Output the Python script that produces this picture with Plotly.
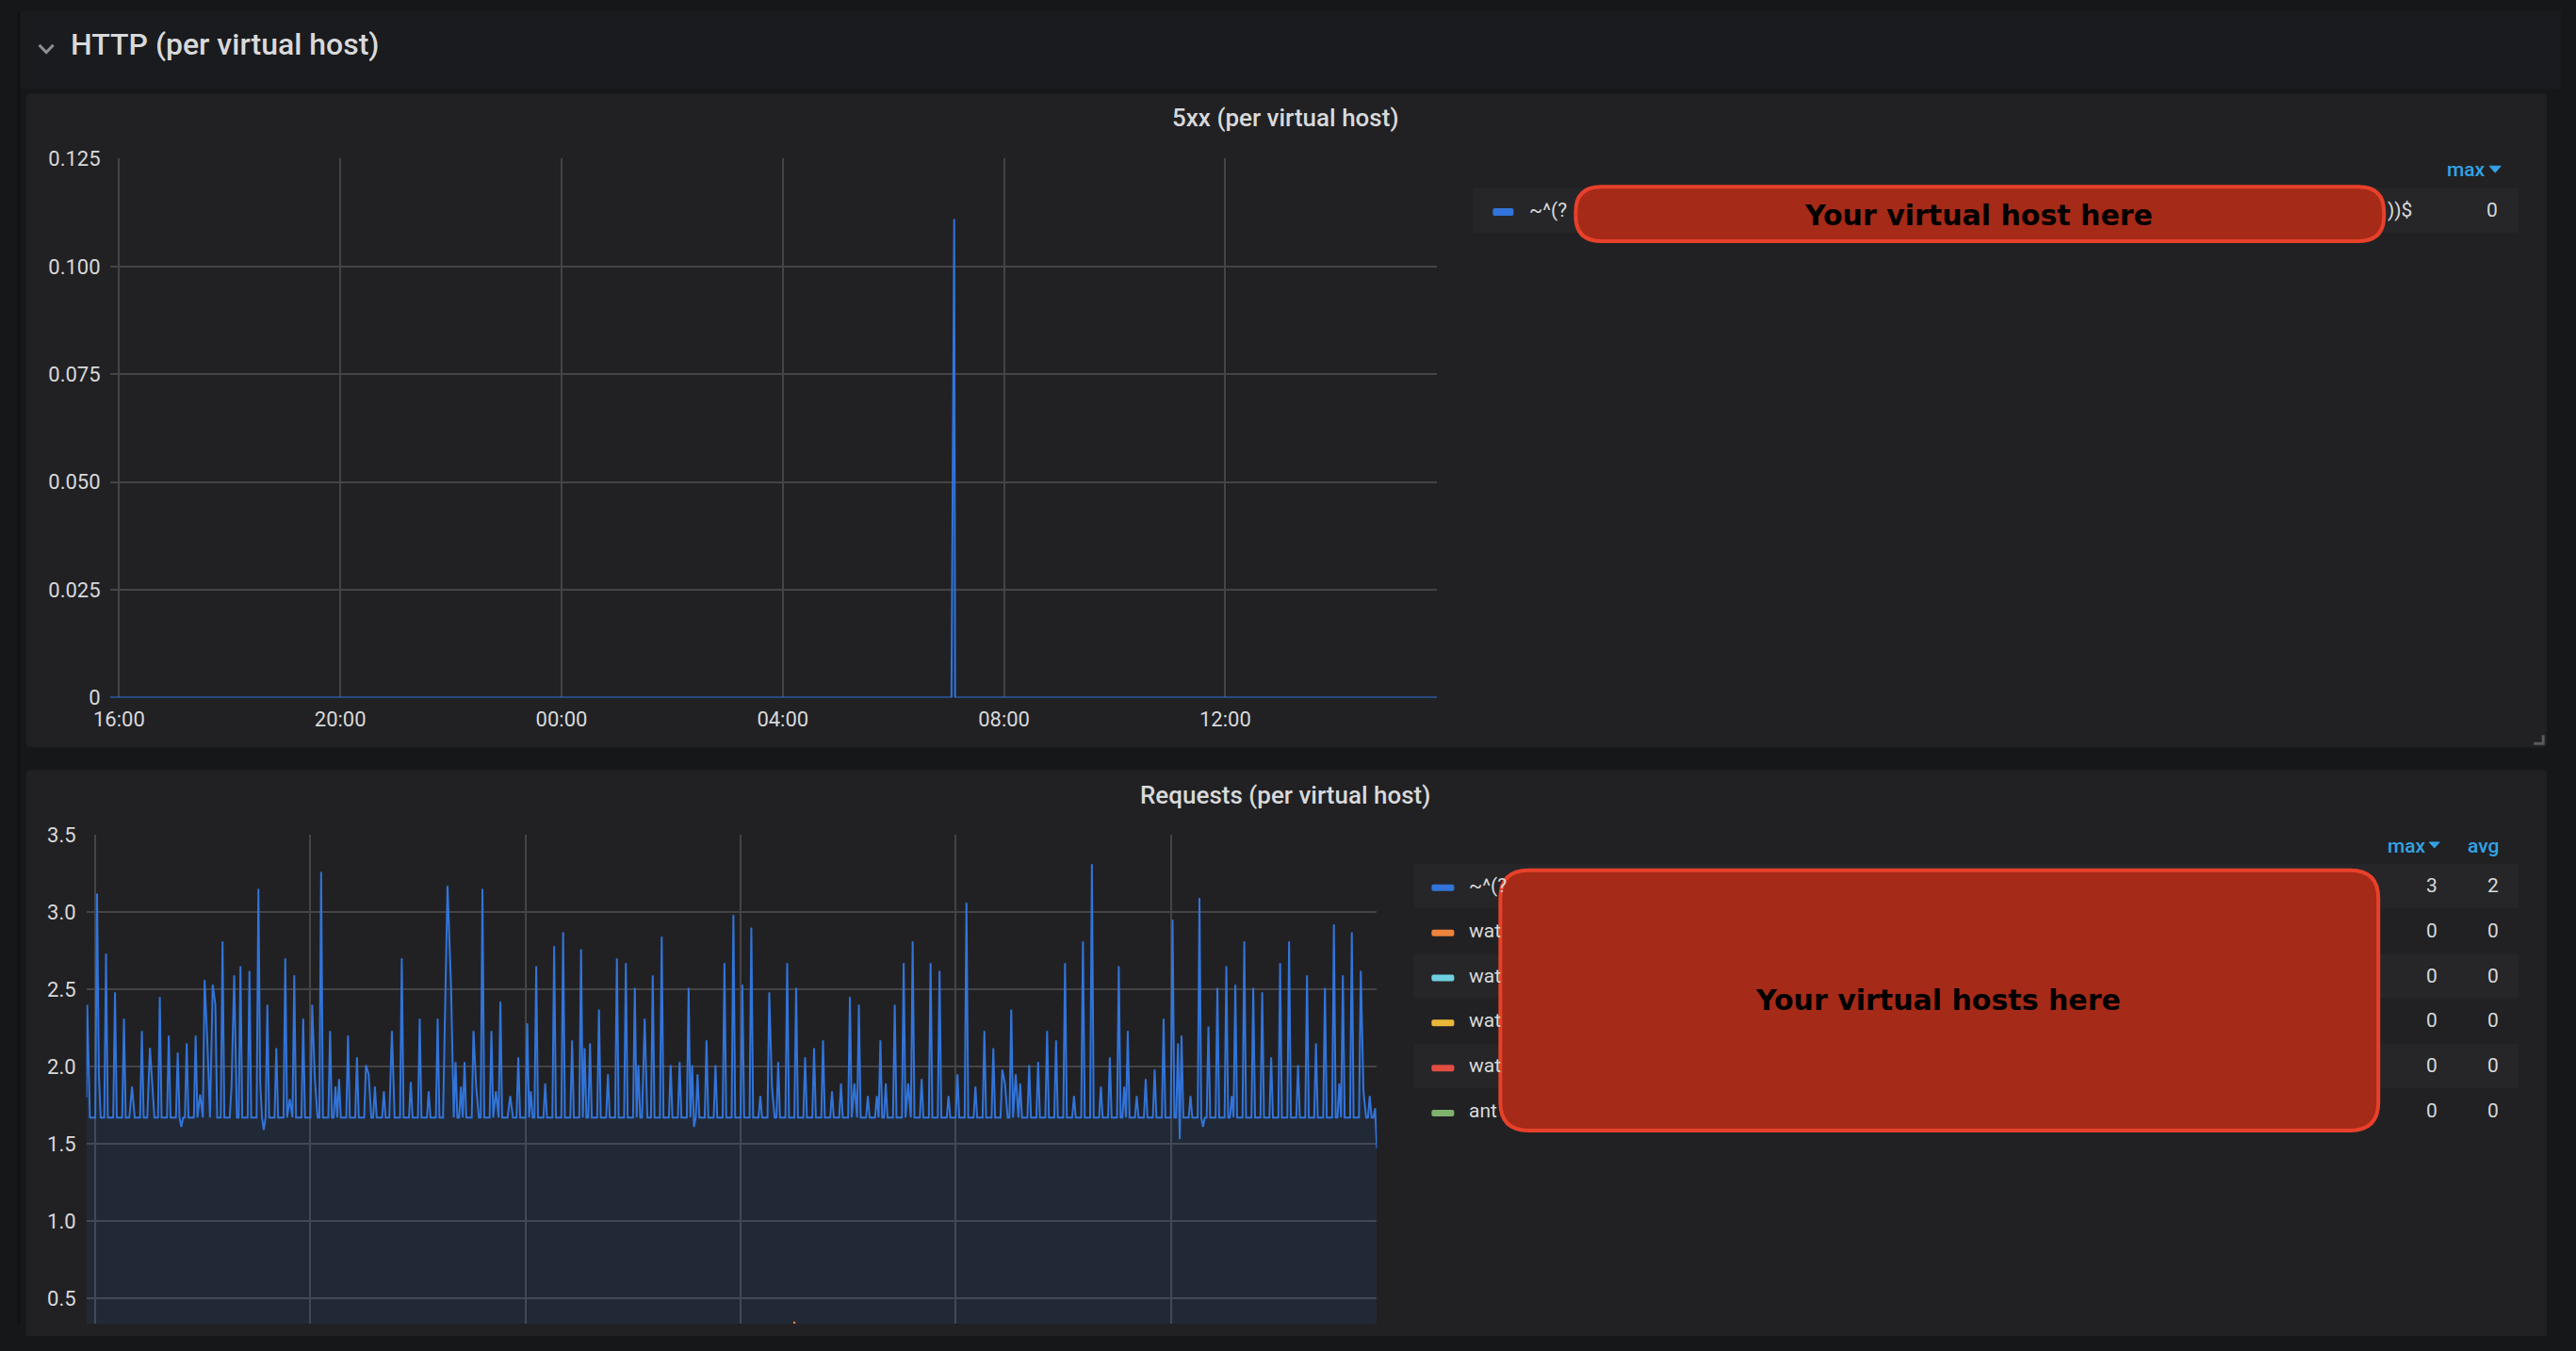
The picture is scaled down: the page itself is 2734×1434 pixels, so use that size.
import pandas as pd
import plotly.graph_objects as go

# figure size, and the mapping from reference page pixels to figure pixels
# (the viewer frames the figure with a small border, so positions are nudged to line up)
W, H = 2718, 1418
SX, OX = 1.0065, 18.5
SY, OY = 1.0147, 12.4

# time axis: minutes after 16:00 on day one, 24 h window
day_start = pd.Timestamp("2021-03-01 16:00")
range_min = [-10, 1430]

# 5xx (per virtual host)
err_minutes = [-10, 903, 906, 907, 1430]
err_values = [0, 0, 0.111, 0, 0]
err_ticks = [0, 0.025, 0.05, 0.075, 0.1, 0.125]
err_ticktext = ["0", "0.025", "0.050", "0.075", "0.100", "0.125"]

# Requests (per virtual host): resting level plus the spikes / dips
req_base = 1.67
req_event_minutes = [
    -10, -9, 2, 4, 12, 22, 32, 41, 52, 61, 64, 72, 82, 92, 96, 102, 112, 117, 122, 125,
    131, 134, 142, 152, 155, 162, 172, 182, 184, 188, 192, 202, 212, 217, 222, 232, 242,
    245, 252, 262, 268, 272, 282, 292, 302, 305, 312, 322, 331, 342, 352,
    362, 372, 382, 390, 393, 397, 402, 408, 412, 422, 425, 432, 442, 447, 452, 463, 472,
    482, 486, 492, 502, 512, 522, 532, 542, 546, 552, 562, 572, 582, 592, 602, 606, 613,
    622, 632, 642, 652, 662, 666, 668, 672, 682, 692, 702, 712,
    722, 732, 742, 752, 755, 762, 772, 782, 792, 802, 812, 822, 832, 842, 847, 852, 862,
    872, 876, 882, 892, 902, 907, 912, 922, 932, 942, 952, 962, 972, 982, 992, 1002, 1012,
    1015, 1022, 1027, 1032, 1042, 1052, 1062, 1072,
    1082, 1092, 1102, 1112, 1122, 1132, 1142, 1148, 1152, 1162, 1172, 1182, 1192, 1202,
    1208, 1210, 1212, 1222, 1232, 1236, 1242, 1252, 1262, 1268, 1272, 1282, 1292, 1302,
    1312, 1322, 1332, 1342, 1352, 1362, 1372, 1382, 1388, 1392, 1402, 1412, 1415, 1422,
    1428, 1430,
]
req_event_values = [
    1.80, 2.40, 3.12, 1.95, 2.73, 2.48, 2.31, 1.87, 2.23, 2.12, 1.88, 2.45, 2.20, 2.09, 1.61, 2.15, 2.20, 1.82, 2.56, 2.17,
    2.53, 2.40, 2.81, 1.87, 2.59, 2.65, 2.62, 3.15, 1.90, 1.59, 2.40, 2.12, 2.70, 1.79, 2.59, 2.31, 2.40,
    1.92, 3.26, 2.23, 1.87, 1.92, 2.20, 2.06, 2.01, 1.95, 1.87, 1.84, 2.23, 2.70, 1.90,
    2.31, 1.84, 2.31, 2.28, 3.17, 2.51, 2.03, 1.87, 2.03, 2.23, 1.87, 3.15, 2.23, 1.84, 2.42, 1.81, 2.06,
    2.28, 1.84, 2.65, 1.89, 2.78, 2.87, 2.17, 2.76, 2.12, 2.15, 2.37, 1.95, 2.70, 2.67, 2.51, 2.01, 2.31,
    2.59, 2.84, 2.01, 2.03, 2.51, 2.01, 1.61, 1.95, 2.17, 2.01, 2.67, 2.98,
    2.53, 2.90, 1.81, 2.48, 1.87, 2.03, 2.67, 2.51, 2.06, 2.12, 2.17, 1.84, 1.89, 2.45, 1.89, 2.40, 1.81,
    1.81, 2.17, 1.89, 2.40, 2.67, 1.89, 2.81, 1.92, 2.67, 2.62, 1.81, 1.95, 3.06, 1.87, 2.23, 2.12, 1.98,
    1.89, 2.37, 1.95, 1.89, 2.01, 2.03, 2.23, 2.17,
    2.67, 1.81, 2.81, 3.31, 1.87, 2.06, 2.65, 1.87, 2.23, 1.81, 1.92, 1.98, 2.31, 2.95,
    2.15, 1.53, 2.20, 1.81, 3.09, 1.61, 2.26, 2.51, 2.65, 1.81, 2.53, 2.81, 2.51, 2.48,
    2.06, 2.67, 2.81, 2.01, 2.59, 2.15, 2.51, 2.92, 1.89, 2.59, 2.87, 2.62, 1.84, 1.81,
    1.73, 1.47,
]
# second host, one small spike around 05:00
orange_minutes = [-10, 778, 780, 782, 1430]
orange_values = [0, 0, 0.35, 0, 0]
req_ticks = [0.5, 1.0, 1.5, 2.0, 2.5, 3.0, 3.5]

# legends
err_legend_label = "~^(?"
err_legend_tail = "))$"
err_legend_max = "0"
req_legend_labels = ["~^(?", "wat", "wat", "wat", "wat", "ant"]
req_legend_colors = ["#3274D9", "#EF843C", "#6ED0E0", "#EAB839", "#E24D42", "#7EB26D"]
req_legend_max = ["3", "0", "0", "0", "0", "0"]
req_legend_avg = ["2", "0", "0", "0", "0", "0"]

TEXT = "#d8d9da"
BLUE_HEAD = "#33a2e5"
GRID = "#444447"
PANEL = "#212124"


def px(x):
    return (x * SX - OX) / W


def py(y):
    return 1 - (y * SY - OY) / H


def to_time(mins):
    return day_start + pd.to_timedelta(mins, unit="min")


def rrect(x0, y0, x1, y1, r, fill, line=None, lw=0, layer="below"):
    pts = [
        ("M", x0 + r, y0), ("L", x1 - r, y0), ("Q", x1, y0, x1, y0 + r),
        ("L", x1, y1 - r), ("Q", x1, y1, x1 - r, y1), ("L", x0 + r, y1),
        ("Q", x0, y1, x0, y1 - r), ("L", x0, y0 + r), ("Q", x0, y0, x0 + r, y0),
    ]
    parts = []
    for p in pts:
        cmd, coords = p[0], p[1:]
        xy = []
        for i in range(0, len(coords), 2):
            xy.append(f"{px(coords[i]):.6f},{py(coords[i + 1]):.6f}")
        parts.append(cmd + " " + " ".join(xy))
    return dict(type="path", xref="paper", yref="paper", path=" ".join(parts) + " Z",
                fillcolor=fill, line=dict(color=line or fill, width=lw), layer=layer)


def poly(points, color, width, fill=None, layer="above"):
    path = "M " + " L ".join(f"{px(x):.6f},{py(y):.6f}" for x, y in points)
    if fill:
        path += " Z"
    shp = dict(type="path", xref="paper", yref="paper", path=path,
               line=dict(color=color, width=width), layer=layer)
    if fill:
        shp["fillcolor"] = fill
    return shp


def label(x, y, text, size=21, color=TEXT, anchor="left", weight=None, family="Roboto"):
    f = dict(family=family, size=size, color=color)
    if weight:
        f["weight"] = weight
    return dict(x=px(x), y=py(y), xref="paper", yref="paper", text=text, showarrow=False,
                xanchor=anchor, yanchor="middle", font=f)


# request series: 2-minute resting samples, with the read-off events dropped in
req_points = dict(zip(req_event_minutes, req_event_values))
for m in range(range_min[0], range_min[1] + 1, 2):
    if all(abs(m - e) >= 2 for e in req_event_minutes):
        req_points[m] = req_base
req_minutes = sorted(req_points)
req_values = [req_points[m] for m in req_minutes]

# lower chart is cut by the bottom of the window: 3.5 sits at page y 889, 0.5 at 1382.7
req_px_per_unit = (1382.7 - 889) / 3.0
req_bottom = 3.5 - ((H + OY) / SY - 889) / req_px_per_unit

fig = go.Figure()
fig.add_trace(go.Scatter(
    x=to_time(err_minutes), y=err_values, mode="lines", xaxis="x", yaxis="y",
    line=dict(color="#3274D9", width=2), fill="tozeroy", fillcolor="rgba(50,116,217,0.10)",
    hoverinfo="skip"))
fig.add_trace(go.Scatter(
    x=to_time(req_minutes), y=req_values, mode="lines", xaxis="x2", yaxis="y2",
    line=dict(color="#3274D9", width=2), fill="tozeroy", fillcolor="rgba(50,116,217,0.10)",
    hoverinfo="skip"))
fig.add_trace(go.Scatter(
    x=to_time(orange_minutes), y=orange_values, mode="lines", xaxis="x2", yaxis="y2",
    line=dict(color="#EF843C", width=2), hoverinfo="skip"))

xr = [to_time(range_min[0]), to_time(range_min[1])]
axis_common = dict(gridcolor=GRID, gridwidth=1.5, zeroline=False, showline=False, ticks="",
                   tickfont=dict(family="Roboto", size=22, color=TEXT))

fig.update_layout(
    width=W, height=H, autosize=False, margin=dict(l=0, r=0, t=0, b=0),
    paper_bgcolor="#161719", plot_bgcolor="rgba(0,0,0,0)", showlegend=False,
    xaxis=dict(domain=[px(117), px(1526)], range=xr, type="date", tickformat="%H:%M",
               tick0=day_start, dtick=4 * 3600 * 1000, anchor="y", ticklabelstandoff=8,
               **axis_common),
    yaxis=dict(domain=[py(743), py(169)], range=[0, 0.12505], tickvals=err_ticks,
               ticktext=err_ticktext, anchor="x", ticklabelstandoff=9, **axis_common),
    xaxis2=dict(domain=[px(92), px(1462)], range=xr, type="date", tick0=day_start,
                dtick=4 * 3600 * 1000, anchor="y2", showticklabels=False, **axis_common),
    yaxis2=dict(domain=[0, py(889)], range=[req_bottom, 3.5005], tickvals=req_ticks,
                tickformat=".1f", anchor="x2", ticklabelstandoff=10, **axis_common),
)

shapes = [
    # page parts
    dict(type="rect", xref="paper", yref="paper", x0=0, x1=1, y0=py(95), y1=1,
         fillcolor="#1a1b1e", line=dict(width=0), layer="below"),
    dict(type="rect", xref="paper", yref="paper", x0=0, x1=px(22), y0=0, y1=1,
         fillcolor="#111214", line=dict(width=0), layer="below"),
    rrect(28, 100, 2704, 796, 5, PANEL),
    rrect(28, 820, 2704, 1460, 5, PANEL),
    # header chevron and resize handle
    poly([(42, 48), (49.5, 56), (57, 48)], "#8e8f92", 3),
    poly([(2700, 783), (2700, 792), (2690, 792)], "#5a5a5c", 3),
    # top legend row
    rrect(1564, 200, 2674, 248, 2, "#262629"),
    rrect(1585, 222, 1607, 230, 2, "#3274D9", layer="above"),
    poly([(2643, 177), (2655, 177), (2649, 184)], BLUE_HEAD, 1, fill=BLUE_HEAD),
    poly([(2579, 897), (2590, 897), (2584.5, 903)], BLUE_HEAD, 1, fill=BLUE_HEAD),
]

annotations = [
    label(73, 47, "HTTP (per virtual host)", size=32, weight=500),
    label(1365, 126, "5xx (per virtual host)", size=26, anchor="center", weight=500),
    label(1365, 847, "Requests (per virtual host)", size=26, anchor="center", weight=500),
    label(1622, 224, err_legend_label),
    label(2533, 224, err_legend_tail),
    label(2654, 224, err_legend_max, anchor="right"),
    label(2641, 181, "max", color=BLUE_HEAD, anchor="right", weight=500),
    label(2578, 901, "max", color=BLUE_HEAD, anchor="right", weight=500),
    label(2655, 901, "avg", color=BLUE_HEAD, anchor="right", weight=500),
]

for i, (name, col, mx, av) in enumerate(zip(req_legend_labels, req_legend_colors,
                                             req_legend_max, req_legend_avg)):
    c = 943 + 48 * i
    if i % 2 == 0:
        shapes.append(rrect(1501, c - 23, 2674, c + 24, 2, "#262629"))
    shapes.append(rrect(1520, c - 1, 1544, c + 6, 2, col, layer="above"))
    annotations.append(label(1558, c, name))
    annotations.append(label(2590, c, mx, anchor="right"))
    annotations.append(label(2655, c, av, anchor="right"))

# placeholder boxes hiding the host names
shapes.append(rrect(1673, 199, 2531, 257, 27, "#a52a18", "#e8402a", 4, layer="above"))
shapes.append(rrect(1593, 927, 2525, 1204, 30, "#a52a18", "#e8402a", 4, layer="above"))
annotations.append(label(2101, 229, "Your virtual host here", size=30, color="#000000",
                         anchor="center", family="DejaVu Sans", weight="bold"))
annotations.append(label(2058, 1065, "Your virtual hosts here", size=30, color="#000000",
                         anchor="center", family="DejaVu Sans", weight="bold"))

fig.update_layout(shapes=shapes, annotations=annotations)

fig.write_html(
    "out.html",
    config={"displayModeBar": False},
    post_script=("document.body.style.margin='0';"
                 "document.body.style.background='#161719';"),
)
